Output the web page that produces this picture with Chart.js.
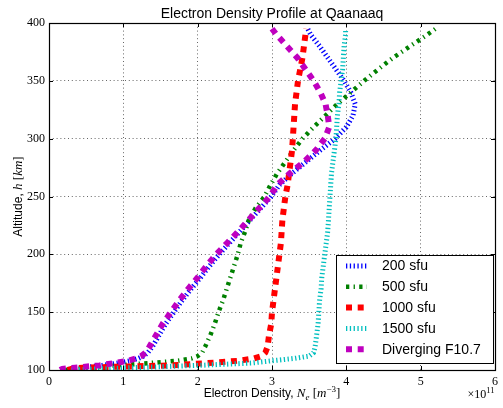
<!DOCTYPE html>
<html>
<head>
<meta charset="utf-8">
<script src="https://cdn.jsdelivr.net/npm/chart.js@4.4.0/dist/chart.umd.min.js"></script>
<style>
  html, body { margin: 0; padding: 0; background: #fff; }
  #wrap { width: 503px; height: 408px; }
</style>
</head>
<body>
<div id="wrap"><canvas id="chart" width="503" height="408"></canvas></div>
<script>
// --- DATA (electron density in units of 1e11 m^-3, altitude in km) ---
const altitude = [100, 101, 102, 104, 106, 108, 110, 112, 115, 120, 130, 140, 150, 160, 170, 180, 190, 200, 210, 220,
                  230, 240, 250, 260, 270, 280, 290, 300, 310, 320, 330, 340, 350, 360, 370, 380, 390, 395];
const ne200  = [0.20, 0.30, 0.45, 0.72, 0.93, 1.09, 1.20, 1.27, 1.33, 1.39, 1.48, 1.57, 1.68, 1.79, 1.91, 2.04, 2.16, 2.29, 2.43, 2.57,
                2.71, 2.85, 2.99, 3.10, 3.27, 3.46, 3.65, 3.85, 4.00, 4.09, 4.12, 4.06, 3.97, 3.86, 3.75, 3.64, 3.52, 3.48];
const ne500  = [0.22, 0.40, 0.60, 0.92, 1.35, 1.73, 1.92, 2.00, 2.06, 2.10, 2.17, 2.23, 2.28, 2.34, 2.39, 2.44, 2.49, 2.54, 2.58, 2.64,
                2.69, 2.78, 2.90, 2.98, 3.07, 3.18, 3.29, 3.41, 3.56, 3.72, 3.88, 4.06, 4.24, 4.43, 4.63, 4.86, 5.09, 5.20];
const ne1000 = [0.25, 0.30, 0.45, 1.65, 2.14, 2.55, 2.76, 2.86, 2.91, 2.94, 2.96, 2.99, 3.00, 3.02, 3.04, 3.06, 3.08, 3.10, 3.12, 3.13,
                3.14, 3.16, 3.18, 3.21, 3.23, 3.25, 3.27, 3.28, 3.29, 3.30, 3.31, 3.33, 3.35, 3.38, 3.41, 3.43, 3.45, 3.46];
const ne1500 = [0.30, 0.70, 1.13, 2.02, 2.72, 3.00, 3.30, 3.50, 3.56, 3.58, 3.60, 3.62, 3.63, 3.64, 3.66, 3.67, 3.69, 3.71, 3.73, 3.75,
                3.76, 3.77, 3.78, 3.79, 3.80, 3.82, 3.84, 3.86, 3.87, 3.88, 3.90, 3.91, 3.93, 3.95, 3.96, 3.97, 3.99, 3.99];
const neDiverging = [0.15, 0.18, 0.35, 0.68, 0.88, 1.06, 1.17, 1.24, 1.30, 1.35, 1.44, 1.53, 1.64, 1.75, 1.87, 2.00, 2.12, 2.25, 2.40, 2.55,
                     2.69, 2.83, 2.97, 3.07, 3.24, 3.43, 3.59, 3.71, 3.77, 3.75, 3.72, 3.65, 3.56, 3.45, 3.34, 3.20, 3.06, 3.00];
const seriesLabels = ['200 sfu', '500 sfu', '1000 sfu', '1500 sfu', 'Diverging F10.7'];
const xTicks = [0, 1, 2, 3, 4, 5, 6];
const yTicks = [100, 150, 200, 250, 300, 350, 400];

// --- STYLES ---
const styles = [
  { color: '#0000ff', width: 5,   dash: [1.3, 2.5] },
  { color: '#008000', width: 4.5, dash: [3.3, 4.3, 1.3, 4.3] },
  { color: '#ff0000', width: 6,   dash: [6, 5.7] },
  { color: '#00bfbf', width: 5,   dash: [1.3, 2.5] },
  { color: '#bf00bf', width: 6,   dash: [6, 5.7] }
];
const allSeries = [ne200, ne500, ne1000, ne1500, neDiverging];

function toPoints(values) {
  return values.map((v, i) => ({ x: v, y: altitude[i] }));
}

// draws a run of text pieces with individual fonts / offsets, centered on (cx, baseline)
function drawPieces(ctx, pieces, cx, baseline) {
  let total = 0;
  pieces.forEach(p => { ctx.font = p.font; p.w = ctx.measureText(p.text).width; total += p.w; });
  let x = cx - total / 2;
  ctx.textAlign = 'left';
  ctx.textBaseline = 'alphabetic';
  pieces.forEach(p => {
    ctx.font = p.font;
    ctx.fillText(p.text, x, baseline + (p.dy || 0));
    x += p.w;
  });
}

const SANS = '"Liberation Sans", Arial, sans-serif';
const SERIF = '"Liberation Serif", "DejaVu Serif", serif';

const mplDecor = {
  id: 'mplDecor',
  afterDraw(chart) {
    const ctx = chart.ctx, a = chart.chartArea;
    const xs = chart.scales.x, ys = chart.scales.y;
    ctx.save();
    ctx.fillStyle = '#000';
    ctx.strokeStyle = '#000';
    ctx.setLineDash([]);

    // inward ticks on all four sides
    ctx.lineWidth = 1;
    ctx.beginPath();
    xTicks.forEach(t => {
      const px = Math.round(xs.getPixelForValue(t)) + 0.5;
      ctx.moveTo(px, a.bottom); ctx.lineTo(px, a.bottom - 4);
      ctx.moveTo(px, a.top); ctx.lineTo(px, a.top + 4);
    });
    yTicks.forEach(t => {
      const py = Math.round(ys.getPixelForValue(t)) + 0.5;
      ctx.moveTo(a.left, py); ctx.lineTo(a.left + 4, py);
      ctx.moveTo(a.right, py); ctx.lineTo(a.right - 4, py);
    });
    ctx.stroke();

    // frame
    ctx.lineWidth = 1.2;
    ctx.strokeRect(Math.round(a.left) + 0.5, Math.round(a.top) + 0.5,
                   Math.round(a.right - a.left), Math.round(a.bottom - a.top));

    // title
    ctx.font = '14px ' + SANS;
    ctx.textAlign = 'center';
    ctx.textBaseline = 'alphabetic';
    ctx.fillText('Electron Density Profile at Qaanaaq', (a.left + a.right) / 2, 17.5);

    // x label
    drawPieces(ctx, [
      { text: 'Electron Density, ', font: '12px ' + SANS },
      { text: 'N', font: 'italic 13px ' + SERIF },
      { text: 'e', font: 'italic 9px ' + SERIF, dy: 2.5 },
      { text: ' [', font: '13px ' + SERIF },
      { text: 'm', font: 'italic 13px ' + SERIF },
      { text: '\u22123', font: '9px ' + SERIF, dy: -5 },
      { text: ']', font: '13px ' + SERIF }
    ], (a.left + a.right) / 2, 397);

    // y label
    ctx.save();
    ctx.translate(18, (a.top + a.bottom) / 2);
    ctx.rotate(-Math.PI / 2);
    drawPieces(ctx, [
      { text: 'Altitude, ', font: '12px ' + SANS },
      { text: 'h', font: 'italic 13px ' + SERIF },
      { text: ' [', font: '13px ' + SERIF },
      { text: 'km', font: 'italic 13px ' + SERIF },
      { text: ']', font: '13px ' + SERIF }
    ], 0, 4);
    ctx.restore();

    // offset text
    drawPieces(ctx, [
      { text: '\u00d710', font: '12px ' + SERIF },
      { text: '11', font: '8.5px ' + SERIF, dy: -5 }
    ], 481, 398);

    // legend
    const bx = 336, by = 255, bw = 157, bh = 108;
    ctx.fillStyle = '#fff';
    ctx.fillRect(bx, by, bw, bh);
    ctx.lineWidth = 1;
    ctx.strokeStyle = '#000';
    ctx.strokeRect(bx + 0.5, by + 0.5, bw, bh);
    seriesLabels.forEach((lab, i) => {
      const yy = 266 + i * 20.8;
      const st = styles[i];
      ctx.beginPath();
      ctx.setLineDash(st.dash);
      ctx.lineDashOffset = 0;
      ctx.lineWidth = st.width;
      ctx.strokeStyle = st.color;
      ctx.lineCap = 'butt';
      ctx.moveTo(346, yy); ctx.lineTo(367, yy);
      ctx.stroke();
      ctx.setLineDash([]);
      ctx.fillStyle = '#000';
      ctx.font = '14px ' + SANS;
      ctx.textAlign = 'left';
      ctx.textBaseline = 'middle';
      ctx.fillText(lab, 382, yy + 0.5);
    });
    ctx.restore();
  }
};

const datasets = allSeries.map((vals, i) => ({
  label: seriesLabels[i],
  data: toPoints(vals),
  showLine: true,
  borderColor: styles[i].color,
  borderWidth: styles[i].width,
  borderDash: styles[i].dash,
  borderCapStyle: 'butt',
  borderJoinStyle: 'miter',
  pointRadius: 0,
  pointHoverRadius: 0,
  fill: false,
  tension: 0,
  order: 5 - i
}));

new Chart(document.getElementById('chart').getContext('2d'), {
  type: 'scatter',
  data: { datasets },
  options: {
    responsive: false,
    animation: false,
    devicePixelRatio: 1,
    layout: { padding: { top: 23, right: 7, bottom: 0, left: 0 } },
    plugins: { legend: { display: false }, title: { display: false }, tooltip: { enabled: false } },
    scales: {
      x: {
        type: 'linear', min: 0, max: 6,
        afterFit: s => { s.height = 38; },
        afterBuildTicks: s => { s.ticks = xTicks.map(v => ({ value: v })); },
        ticks: { padding: 5, color: '#000', font: { family: SERIF, size: 12 }, callback: v => String(v) },
        grid: { color: 'rgba(0,0,0,0.6)', lineWidth: 1, drawTicks: false },
        border: { display: false, dash: [1, 2.8] }
      },
      y: {
        type: 'linear', min: 100, max: 400,
        afterFit: s => { s.width = 49; },
        afterBuildTicks: s => { s.ticks = yTicks.map(v => ({ value: v })); },
        ticks: { padding: 4, color: '#000', font: { family: SERIF, size: 12 }, callback: v => String(v) },
        grid: { color: 'rgba(0,0,0,0.6)', lineWidth: 1, drawTicks: false },
        border: { display: false, dash: [1, 2.8] }
      }
    }
  },
  plugins: [mplDecor]
});
</script>
</body>
</html>
